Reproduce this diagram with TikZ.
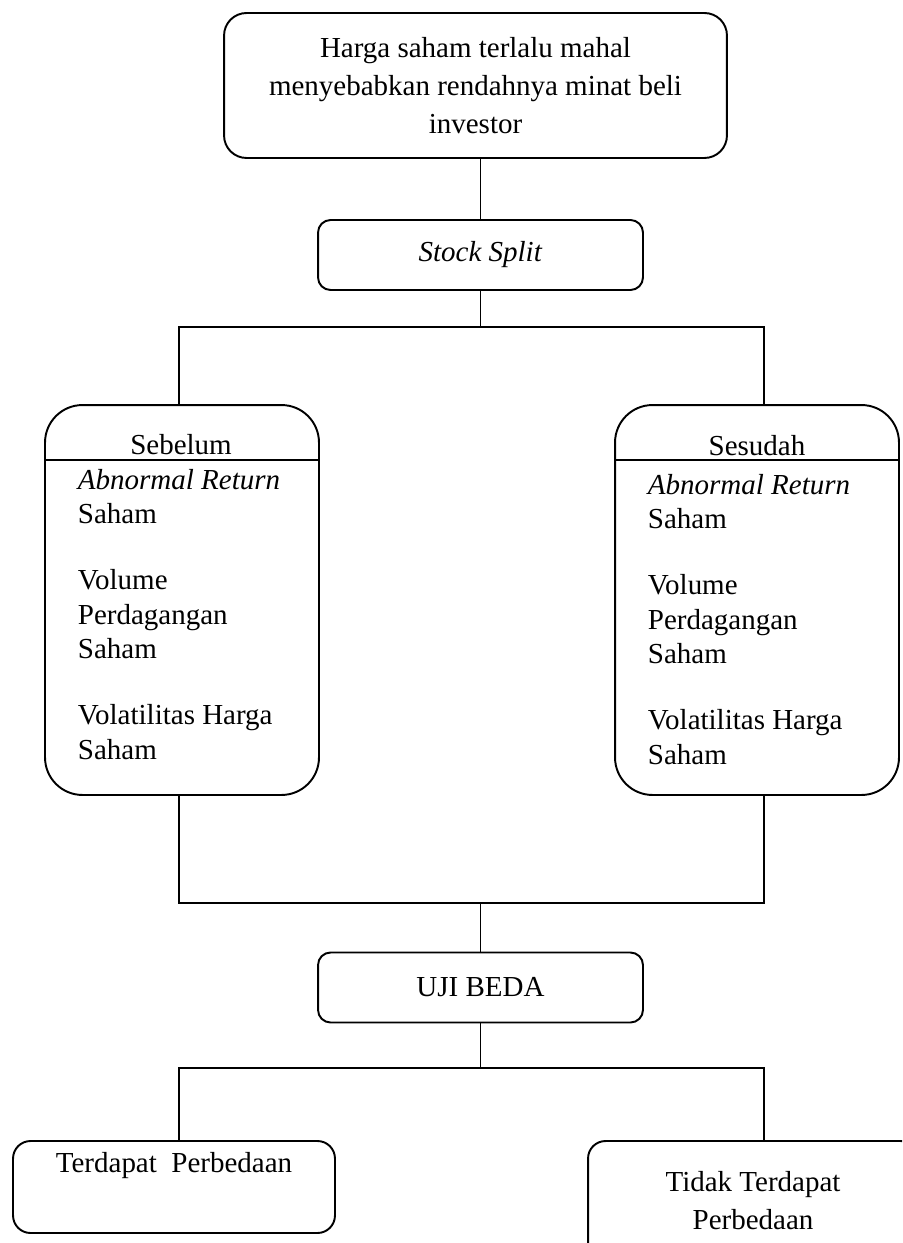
\documentclass[tikz,border=0pt]{standalone}
\usepackage{fontspec}
\setmainfont{Liberation Serif}
\usetikzlibrary{positioning}
\begin{document}
\begin{tikzpicture}
  [
  x=0.02cm, y=-0.02cm,
  font=\fontsize{16.5}{21.6}\selectfont, line width=1.1pt, draw=black,
  topbox/.style={rectangle, draw=black, rounded corners=0.45cm, minimum width=10.06cm, minimum height=2.9cm, align=center, inner sep=0pt},
  stepbox/.style={rectangle, draw=black, rounded corners=0.25cm, minimum width=6.5cm, minimum height=1.4cm, inner sep=0pt},
  groupbox/.style={rectangle, draw=black, rounded corners=0.75cm, minimum height=7.8cm, inner sep=0pt},
  groupbody/.style={align=left, inner sep=0pt, font=\fontsize{16.5}{19.6}\selectfont},
  resultbox/.style={rectangle, draw=black, rounded corners=0.35cm, align=center, inner sep=0pt}
  ]

\clip (0,0) rectangle (902,1243);

% boxes
\node[topbox] (problem) at (475.5,85.5) {Harga saham terlalu mahal\\ menyebabkan rendahnya minat beli\\ investor};
\node[stepbox] (split) at (480.5,255) {\textit{Stock Split}};
\node[groupbox, minimum width=5.48cm] (pre) at (182,600) {};
\node[groupbox, minimum width=5.68cm] (post) at (757,600) {};
\node[stepbox] (test) at (480.5,987.5) {UJI BEDA};
\node[resultbox, minimum width=6.44cm, minimum height=1.84cm, text height=0.4cm, text depth=1cm] (diff) at (174,1187) {Terdapat\ \ Perbedaan};
\node[resultbox, minimum width=6.6cm, minimum height=2.4cm] (nodiff) at (753,1201) {Tidak Terdapat\\ Perbedaan};

% group contents
\draw ([yshift=-1.12cm]pre.north west) -- ([yshift=-1.12cm]pre.north east);
\draw ([yshift=-1.12cm]post.north west) -- ([yshift=-1.12cm]post.north east);
\node[anchor=base] (preTitle) at (181,454) {Sebelum};
\node[anchor=base] (postTitle) at (757,455) {Sesudah};
\node[groupbody, anchor=base west] (preBody) at (77,759)
  {\textit{Abnormal Return}\\ Saham\\[18pt] Volume\\ Perdagangan\\ Saham\\[18pt] Volatilitas Harga\\ Saham};
\node[groupbody, anchor=base west] (postBody) at (647,764)
  {\textit{Abnormal Return}\\ Saham\\[18pt] Volume\\ Perdagangan\\ Saham\\[18pt] Volatilitas Harga\\ Saham};

% connectors
\coordinate (bus1) at (480.5,327);
\coordinate (bus2) at (480.5,903);
\coordinate (bus3) at (480.5,1068);
\draw (split.north) -- (split.north |- problem.south);
\draw (split) -- (bus1);
\draw ([xshift=-0.06cm]pre.north) |- (bus1) -| ([xshift=0.14cm]post.north);
\draw ([xshift=-0.06cm]pre.south) |- (bus2) -| ([xshift=0.14cm]post.south);
\draw (bus2) -- (test);
\draw (test) -- (bus3);
\draw ([xshift=0.1cm]diff.north) |- (bus3) -| ([xshift=0.22cm]nodiff.north);
\end{tikzpicture}
\end{document}
